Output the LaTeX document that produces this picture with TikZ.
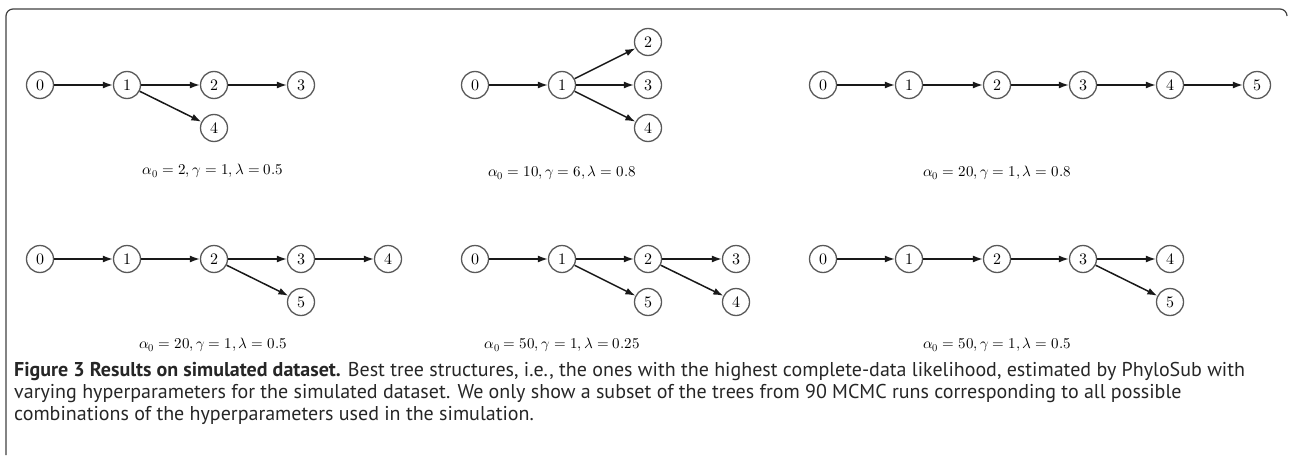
\documentclass[tikz,border=0pt]{standalone}
\usepackage{fontspec}
\setmainfont{PT Sans}
\usepackage{unicode-math}
\setmathfont{Latin Modern Math}
\usetikzlibrary{arrows.meta}
\colorlet{CircleGray}{black!65}
\colorlet{FrameGray}{black!75}
\tikzstyle{treeNode}=[circle,draw=CircleGray,line width=1.3pt,minimum size=27pt,inner sep=0pt,font=\fontsize{16}{18}\selectfont]
\tikzstyle{paramLabel}=[inner sep=0pt,font=\fontsize{15}{18}\selectfont]
\tikzstyle{treeEdge}=[-{Latex[length=10pt,width=7pt]}, line width=1.5pt, black!90]
\tikzstyle{frameLine}=[draw=FrameGray, line width=1.2pt, rounded corners=7pt]

\begin{document}
\begin{tikzpicture}[x=1pt,y=-1pt]
        \useasboundingbox (0,0) rectangle (1290,455);
        \draw[frameLine] (6,455) |- (1287,9) -- (1287,16);

        % Top left
        \node[treeNode] (a0) at (40, 85) {$0$};
        \node[treeNode] (a1) at (127, 85) {$1$};
        \node[treeNode] (a2) at (214, 85) {$2$};
        \node[treeNode] (a3) at (301, 85) {$3$};
        \node[treeNode] (a4) at (214, 128) {$4$};
        \node[paramLabel] (aL) at (213, 171) {$\alpha_0 = 2, \gamma = 1, \lambda = 0.5$};

        \draw[treeEdge] (a0) -- (a1);
        \draw[treeEdge] (a1) -- (a2);
        \draw[treeEdge] (a2) -- (a3);
        \draw[treeEdge] (a1) -- (a4);

        % Top middle
        \node[treeNode] (b0) at (475, 85) {$0$};
        \node[treeNode] (b1) at (562, 85) {$1$};
        \node[treeNode] (b2) at (648, 42) {$2$};
        \node[treeNode] (b3) at (648, 85) {$3$};
        \node[treeNode] (b4) at (648, 128) {$4$};
        \node[paramLabel] (bL) at (562, 173) {$\alpha_0 = 10, \gamma = 6, \lambda = 0.8$};

        \draw[treeEdge] (b0) -- (b1);
        \draw[treeEdge] (b1) -- (b2);
        \draw[treeEdge] (b1) -- (b3);
        \draw[treeEdge] (b1) -- (b4);

        % Top right
        \node[treeNode] (c0) at (823, 85) {$0$};
        \node[treeNode] (c1) at (909, 85) {$1$};
        \node[treeNode] (c2) at (997, 85) {$2$};
        \node[treeNode] (c3) at (1083, 85) {$3$};
        \node[treeNode] (c4) at (1170, 85) {$4$};
        \node[treeNode] (c5) at (1257, 85) {$5$};
        \node[paramLabel] (cL) at (997, 173) {$\alpha_0 = 20, \gamma = 1, \lambda = 0.8$};

        \draw[treeEdge] (c0) -- (c1);
        \draw[treeEdge] (c1) -- (c2);
        \draw[treeEdge] (c2) -- (c3);
        \draw[treeEdge] (c3) -- (c4);
        \draw[treeEdge] (c4) -- (c5);

        % Bottom left
        \node[treeNode] (d0) at (40, 259) {$0$};
        \node[treeNode] (d1) at (127, 259) {$1$};
        \node[treeNode] (d2) at (214, 259) {$2$};
        \node[treeNode] (d3) at (301, 259) {$3$};
        \node[treeNode] (d4) at (388, 259) {$4$};
        \node[treeNode] (d5) at (301, 302) {$5$};
        \node[paramLabel] (dL) at (213, 345) {$\alpha_0 = 20, \gamma = 1, \lambda = 0.5$};

        \draw[treeEdge] (d0) -- (d1);
        \draw[treeEdge] (d1) -- (d2);
        \draw[treeEdge] (d2) -- (d3);
        \draw[treeEdge] (d3) -- (d4);
        \draw[treeEdge] (d2) -- (d5);

        % Bottom middle
        \node[treeNode] (e0) at (475, 259) {$0$};
        \node[treeNode] (e1) at (562, 259) {$1$};
        \node[treeNode] (e2) at (648, 259) {$2$};
        \node[treeNode] (e3) at (736, 259) {$3$};
        \node[treeNode] (e5) at (648, 302) {$5$};
        \node[treeNode] (e4) at (736, 302) {$4$};
        \node[paramLabel] (eL) at (562, 345) {$\alpha_0 = 50, \gamma = 1, \lambda = 0.25$};

        \draw[treeEdge] (e0) -- (e1);
        \draw[treeEdge] (e1) -- (e2);
        \draw[treeEdge] (e2) -- (e3);
        \draw[treeEdge] (e1) -- (e5);
        \draw[treeEdge] (e2) -- (e4);

        % Bottom right
        \node[treeNode] (f0) at (823, 259) {$0$};
        \node[treeNode] (f1) at (909, 259) {$1$};
        \node[treeNode] (f2) at (997, 259) {$2$};
        \node[treeNode] (f3) at (1083, 259) {$3$};
        \node[treeNode] (f4) at (1170, 259) {$4$};
        \node[treeNode] (f5) at (1170, 302) {$5$};
        \node[paramLabel] (fL) at (997, 345) {$\alpha_0 = 50, \gamma = 1, \lambda = 0.5$};

        \draw[treeEdge] (f0) -- (f1);
        \draw[treeEdge] (f1) -- (f2);
        \draw[treeEdge] (f2) -- (f3);
        \draw[treeEdge] (f3) -- (f4);
        \draw[treeEdge] (f3) -- (f5);

        % Caption
        \node[anchor=north west, inner sep=0pt, align=left, text=black!85,
              font=\fontsize{20}{22}\selectfont] (caption) at (14, 362)
            {\textbf{Figure 3 Results on simulated dataset.} Best tree structures, i.e., the ones with the highest complete-data likelihood, estimated by PhyloSub with\\
             varying hyperparameters for the simulated dataset. We only show a subset of the trees from 90 MCMC runs corresponding to all possible\\
             combinations of the hyperparameters used in the simulation.};
    \end{tikzpicture}
\end{document}
